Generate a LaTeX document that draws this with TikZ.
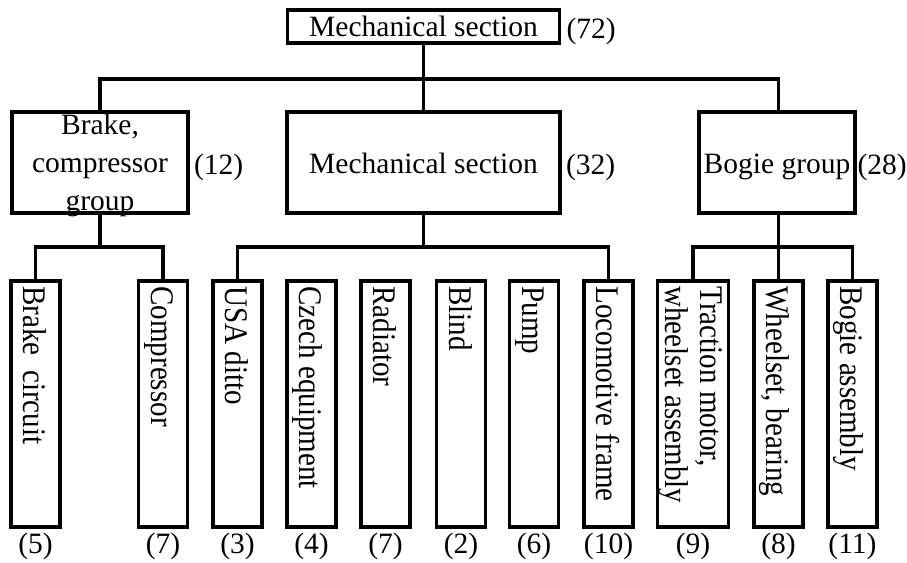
\documentclass[tikz,border=0pt]{standalone}
\usepackage{fontspec}
\setmainfont{Liberation Serif}
% narrower face used for the upright-rotated leaf labels
\newfontfamily\leaffont[FakeStretch=0.88]{Liberation Serif}
\begin{document}
\begin{tikzpicture}[x=1pt,y=-1pt,
  every node/.style={font=\fontsize{29.5}{38}\selectfont, inner sep=0pt},
  box/.style={draw, line width=3.6pt, rectangle},
  groupbox/.style={box, minimum height=101pt, text height=21pt, text depth=0pt},
  leaf/.style={box, minimum width=49pt, minimum height=246pt},
  vtext/.style={rotate=-90, anchor=base west, font=\leaffont\fontsize{33}{35}\selectfont},
  wire/.style={line width=3.2pt},
  count/.style={anchor=base west}]
\useasboundingbox (0,0) rectangle (907,562);

% root
\node[box, minimum width=272pt, minimum height=33pt] (top) at (423.5,26.5) {Mechanical section};
\node[count] (n72) at ([xshift=5pt]top.east |- 0,38) {(72)};

% second level
\node[groupbox, minimum width=176pt] (A) at (100,162.5) {};
\node[align=center] (At) at (100,165) {Brake,\\compressor\\group};
\node[count] (n12) at ([xshift=4pt]A.east |- 0,174) {(12)};
\node[groupbox, minimum width=273pt] (B) at (423.5,162.5) {Mechanical section};
\node[count] (n32) at ([xshift=4pt]B.east |- 0,174) {(32)};
\node[groupbox, minimum width=156pt] (C) at (777,162.5) {Bogie group};
\node[count] (n28) at ([xshift=0.5pt]C.east |- 0,174) {(28)};

% leaves
\node[leaf] (L1) at (35.5,404) {};
\node[leaf] (L2) at (163,404) {};
\node[leaf] (L3) at (237.5,404) {};
\node[leaf] (L4) at (311.5,404) {};
\node[leaf] (L5) at (385.5,404) {};
\node[leaf] (L6) at (461,404) {};
\node[leaf] (L7) at (534,404) {};
\node[leaf] (L8) at (608.5,404) {};
\node[leaf, minimum width=71pt] (L9) at (693,404) {};
\node[leaf] (L10) at (778.5,404) {};
\node[leaf] (L11) at (852.5,404) {};

% vertical leaf texts
\node[vtext] (t1) at ([xshift=-12pt,yshift=-7pt]L1.north) {Brake\ \ circuit};
\node[vtext] (t2) at ([xshift=-12pt,yshift=-7pt]L2.north) {Compressor};
\node[vtext] (t3) at ([xshift=-12pt,yshift=-7pt]L3.north) {USA ditto};
\node[vtext] (t4) at ([xshift=-12pt,yshift=-7pt]L4.north) {Czech equipment};
\node[vtext] (t5) at ([xshift=-12pt,yshift=-7pt]L5.north) {Radiator};
\node[vtext] (t6) at ([xshift=-12pt,yshift=-7pt]L6.north) {Blind};
\node[vtext] (t7) at ([xshift=-12pt,yshift=-7pt]L7.north) {Pump};
\node[vtext] (t8) at ([xshift=-12pt,yshift=-7pt]L8.north) {Locomotive frame};
\node[vtext, anchor=north west, align=left] (t9) at ([xshift=29.5pt,yshift=-7pt]L9.north) {Traction motor,\\wheelset assembly};
\node[vtext] (t10) at ([xshift=-12pt,yshift=-7pt]L10.north) {Wheelset, bearing};
\node[vtext] (t11) at ([xshift=-12pt,yshift=-7pt]L11.north) {Bogie assembly};

% counts under leaves
\coordinate (row3) at (0,546);
\node (c1) at (L1.south |- row3) {(5)};
\node (c2) at (L2.south |- row3) {(7)};
\node (c3) at (L3.south |- row3) {(3)};
\node (c4) at (L4.south |- row3) {(4)};
\node (c5) at (L5.south |- row3) {(7)};
\node (c6) at (L6.south |- row3) {(2)};
\node (c7) at (L7.south |- row3) {(6)};
\node (c8) at (L8.south |- row3) {(10)};
\node (c9) at (L9.south |- row3) {(9)};
\node (c10) at (L10.south |- row3) {(8)};
\node (c11) at (L11.south |- row3) {(11)};

% connectors
\coordinate (row1) at (0,79);
\coordinate (row2) at (0,247);
\draw[wire] (top.south) -- (B.north);
\draw[wire] (A.north) |- (L10.north |- row1) -- (L10.north |- C.north);
\draw[wire] (A.south) -- (A.south |- row2);
\draw[wire] (L1.north) |- (L2.north |- row2) -- (L2.north);
\draw[wire] (B.south) -- (B.south |- row2);
\draw[wire] (L3.north) |- (L8.north |- row2) -- (L8.north);
\draw[wire] (L10.north |- C.south) -- (L10.north);
\draw[wire] (L9.north) |- (L11.north |- row2) -- (L11.north);
\end{tikzpicture}
\end{document}
